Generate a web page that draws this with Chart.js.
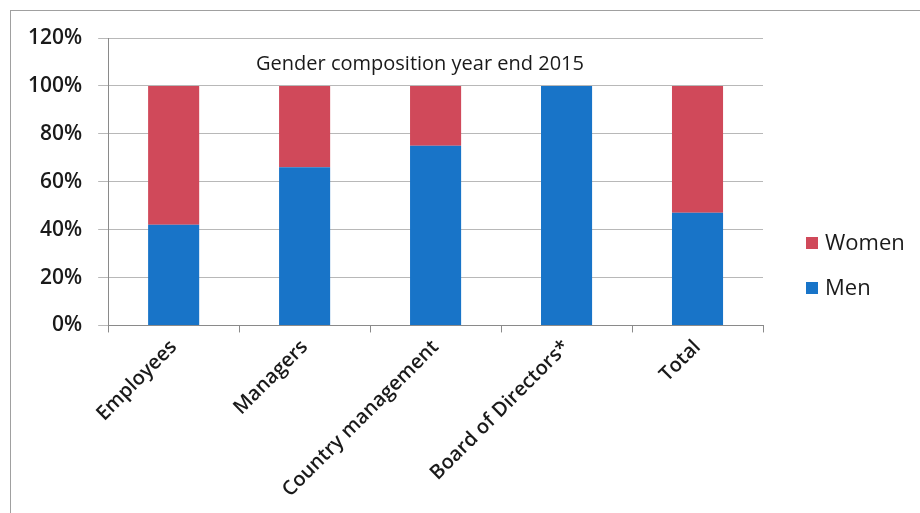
<!DOCTYPE html>
<html>
<head>
<meta charset="utf-8">
<script src="https://cdn.jsdelivr.net/npm/chart.js@4.4.1/dist/chart.umd.min.js"></script>
<style>
  body { margin: 0; background: #fff; }
  #wrap { position: relative; width: 920px; height: 513px; }
  #frame { position: absolute; left: 10px; top: 10px; width: 920px; height: 520px;
           border-top: 1px solid #a0a0a0; border-left: 1px solid #a0a0a0; }
  canvas { position: absolute; left: 0; top: 0; }
</style>
</head>
<body>
<div id="wrap">
  <div id="frame"></div>
  <canvas id="myChart" width="920" height="513"></canvas>
</div>
<script>
// categories and shares (percent)
var categories = ['Employees', 'Managers', 'Country management', 'Board of Directors*', 'Total'];
var men = [42, 66, 75, 100, 47];
var women = [58, 34, 25, 0, 53];
var yTicks = [0, 20, 40, 60, 80, 100, 120];
var chartTitle = 'Gender composition year end 2015';

var fontFamily = "'Open Sans', 'Noto Sans', sans-serif";

// title sits inside the plot area, just above the 100% line
var innerTitle = {
    id: 'innerTitle',
    afterDatasetsDraw: function(chart) {
        var ctx = chart.ctx;
        var y = chart.scales.y.getPixelForValue(110);
        ctx.save();
        ctx.fillStyle = '#1a1a1a';
        ctx.font = '20px ' + fontFamily;
        ctx.textAlign = 'center';
        ctx.textBaseline = 'middle';
        ctx.fillText(chartTitle, 420, y + 2);
        ctx.restore();
    }
};

// legend on the right, Women on top like the original
var sideLegend = {
    id: 'sideLegend',
    afterDraw: function(chart) {
        var ctx = chart.ctx;
        var sets = chart.data.datasets.slice().reverse();
        var x = chart.chartArea.right + 43;
        var y = 243;
        ctx.save();
        ctx.font = '22px ' + fontFamily;
        ctx.textBaseline = 'middle';
        sets.forEach(function(ds, i) {
            var yy = y + i * 45;
            ctx.fillStyle = ds.backgroundColor;
            ctx.fillRect(x, yy - 6, 12, 12);
            ctx.fillStyle = '#1a1a1a';
            ctx.fillText(ds.label, x + 19, yy + 1);
        });
        ctx.restore();
    }
};

var ctx = document.getElementById('myChart').getContext('2d');
var chart = new Chart(ctx, {
    type: 'bar',
    data: {
        labels: categories,
        datasets: [{
            label: 'Men',
            data: men,
            backgroundColor: '#1874c8',
            barPercentage: 0.78,
            categoryPercentage: 0.5
        }, {
            label: 'Women',
            data: women,
            backgroundColor: '#d0495a',
            barPercentage: 0.78,
            categoryPercentage: 0.5
        }]
    },
    options: {
        responsive: false,
        animation: false,
        layout: { padding: { left: 12, right: 157, top: 38, bottom: 8 } },
        plugins: {
            title: { display: false },
            tooltip: { enabled: false },
            legend: { display: false }
        },
        scales: {
            x: {
                stacked: true,
                grid: { drawOnChartArea: false, drawTicks: true, tickLength: 7, color: '#8a8a8a', offset: true },
                border: { color: '#8a8a8a' },
                ticks: {
                    maxRotation: 45,
                    minRotation: 45,
                    color: '#1a1a1a',
                    padding: 3,
                    font: { family: fontFamily, size: 20, weight: '600' }
                }
            },
            y: {
                stacked: true,
                min: 0,
                max: 120,
                afterBuildTicks: function(axis) {
                    axis.ticks = yTicks.map(function(v) { return { value: v }; });
                },
                grid: { color: '#b8b8b8', tickLength: 10 },
                border: { color: '#8a8a8a' },
                ticks: {
                    color: '#1a1a1a',
                    padding: 16,
                    font: { family: fontFamily, size: 21, weight: '600' },
                    callback: function(v) { return v + '%'; }
                }
            }
        }
    },
    plugins: [innerTitle, sideLegend]
});
</script>
</body>
</html>
